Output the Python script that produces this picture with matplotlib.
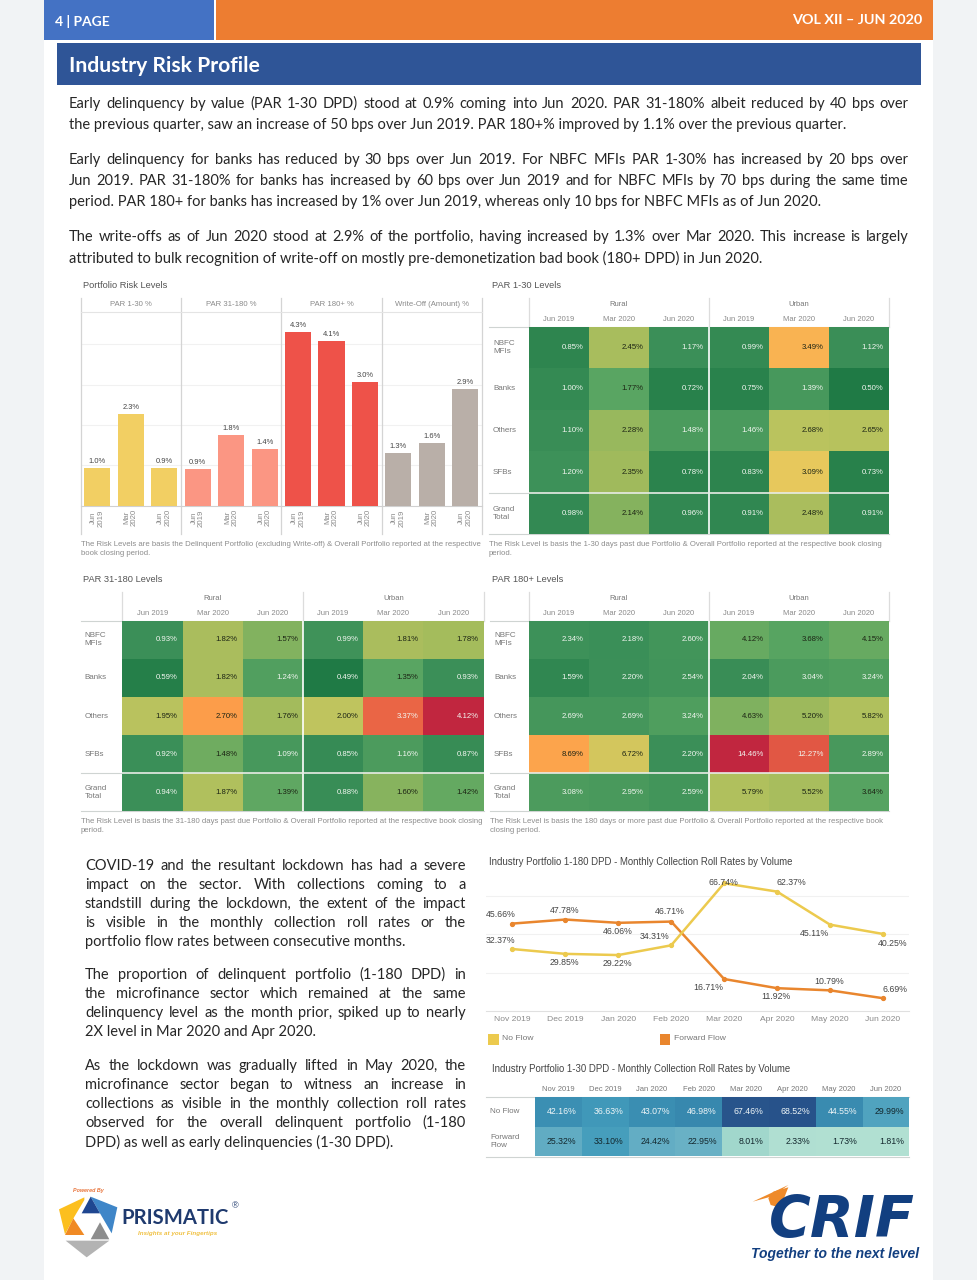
import numpy as np
import matplotlib
matplotlib.use('Agg')
import matplotlib.pyplot as plt
import matplotlib.patches as patches
from matplotlib.colors import LinearSegmentedColormap, Normalize

W, H = 977, 1280
SANS = 'Liberation Sans'
BODY = 'Lato'
PT = 0.72  # px -> points at dpi 100

# bars
bar_periods = ['Jun\n2019', 'Mar\n2020', 'Jun\n2020'] * 4
bar_groups = ['PAR 1-30 %', 'PAR 31-180 %', 'PAR 180+ %', 'Write-Off (Amount) %']
bar_values = [0.94, 2.28, 0.94, 0.91, 1.74, 1.40, 4.30, 4.08, 3.06, 1.31, 1.56, 2.88]
bar_labels = ['1.0%', '2.3%', '0.9%', '0.9%', '1.8%', '1.4%', '4.3%', '4.1%', '3.0%', '1.3%', '1.6%', '2.9%']
bar_colors = ['#f2cf63'] * 3 + ['#fb9683'] * 3 + ['#ee5249'] * 3 + ['#b9afa8'] * 3

# heat tables
table_months = ['Jun 2019', 'Mar 2020', 'Jun 2020', 'Jun 2019', 'Mar 2020', 'Jun 2020']
table_rows = ['NBFC\nMFIs', 'Banks', 'Others', 'SFBs', 'Grand\nTotal']
par_1_30 = [[0.85, 2.45, 1.17, 0.99, 3.49, 1.12],
            [1.00, 1.77, 0.72, 0.75, 1.39, 0.50],
            [1.10, 2.28, 1.48, 1.46, 2.68, 2.65],
            [1.20, 2.35, 0.78, 0.83, 3.09, 0.73],
            [0.98, 2.14, 0.96, 0.91, 2.48, 0.91]]
par_31_180 = [[0.93, 1.82, 1.57, 0.99, 1.81, 1.78],
              [0.59, 1.82, 1.24, 0.49, 1.35, 0.93],
              [1.95, 2.70, 1.76, 2.00, 3.37, 4.12],
              [0.92, 1.48, 1.09, 0.85, 1.16, 0.87],
              [0.94, 1.87, 1.39, 0.88, 1.60, 1.42]]
par_180 = [[2.34, 2.18, 2.60, 4.12, 3.68, 4.15],
           [1.59, 2.20, 2.54, 2.04, 3.04, 3.24],
           [2.69, 2.69, 3.24, 4.63, 5.20, 5.82],
           [8.69, 6.72, 2.20, 14.46, 12.27, 2.89],
           [3.08, 2.95, 2.59, 5.79, 5.52, 3.64]]

# roll rates
roll_months = ['Nov 2019', 'Dec 2019', 'Jan 2020', 'Feb 2020', 'Mar 2020', 'Apr 2020', 'May 2020', 'Jun 2020']
no_flow = [32.37, 29.85, 29.22, 34.31, 66.74, 62.37, 45.11, 40.25]
forward_flow = [45.66, 47.78, 46.06, 46.71, 16.71, 11.92, 10.79, 6.69]
roll_rows = ['No Flow', 'Forward\nFlow']
no_flow_30 = [42.16, 36.63, 43.07, 46.98, 67.46, 68.52, 44.55, 29.99]
forward_flow_30 = [25.32, 33.10, 24.42, 22.95, 8.01, 2.33, 1.73, 1.81]

para_top = [
    ['Early delinquency by value (PAR 1-30 DPD) stood at 0.9% coming into Jun 2020. PAR 31-180% albeit reduced by 40 bps over',
     'the previous quarter, saw an increase of 50 bps over Jun 2019. PAR 180+% improved by 1.1% over the previous quarter.'],
    ['Early delinquency for banks has reduced by 30 bps over Jun 2019. For NBFC MFIs PAR 1-30% has increased by 20 bps over',
     'Jun 2019. PAR 31-180% for banks has increased by 60 bps over Jun 2019 and for NBFC MFIs by 70 bps during the same time',
     'period. PAR 180+ for banks has increased by 1% over Jun 2019, whereas only 10 bps for NBFC MFIs as of Jun 2020.'],
    ['The write-offs as of Jun 2020 stood at 2.9% of the portfolio, having increased by 1.3% over Mar 2020. This increase is largely',
     'attributed to bulk recognition of write-off on mostly pre-demonetization bad book (180+ DPD) in Jun 2020.'],
]
para_top_y = [[104, 125.5], [160, 181, 202], [237, 258]]
para_left = [
    ['COVID-19 and the resultant lockdown has had a severe',
     'impact on the sector. With collections coming to a',
     'standstill during the lockdown, the extent of the impact',
     'is visible in the monthly collection roll rates or the',
     'portfolio flow rates between consecutive months.'],
    ['The proportion of delinquent portfolio (1-180 DPD) in',
     'the microfinance sector which remained at the same',
     'delinquency level as the month prior, spiked up to nearly',
     '2X level in Mar 2020 and Apr 2020.'],
    ['As the lockdown was gradually lifted in May 2020, the',
     'microfinance sector began to witness an increase in',
     'collections as visible in the monthly collection roll rates',
     'observed for the overall delinquent portfolio (1-180',
     'DPD) as well as early delinquencies (1-30 DPD).'],
]
para_left_y = [[866, 885, 904, 923, 942], [975, 994, 1013, 1032], [1066, 1085, 1104, 1123, 1142]]

heat_cmap = LinearSegmentedColormap.from_list('risk', [
    (0.00, '#1f7a45'), (0.12, '#3b8f58'), (0.24, '#5aa662'), (0.34, '#9fba5c'),
    (0.42, '#c1c55e'), (0.50, '#f5c95b'), (0.60, '#fd9f4a'), (0.80, '#ea6445'), (1.00, '#c1263f')])
roll_cmap = LinearSegmentedColormap.from_list('roll', [
    (0.00, '#b5e2d4'), (0.12, '#a0d6cc'), (0.35, '#65aec4'), (0.50, '#429cbb'), (0.70, '#3686ad'), (1.00, '#27528a')])

fig = plt.figure(figsize=(W / 100, H / 100), dpi=100, facecolor='#f1f3f5')
renderer = fig.canvas.get_renderer()

page = fig.add_axes([0, 0, 1, 1], zorder=0)
page.set_xlim(0, W)
page.set_ylim(H, 0)
page.axis('off')


def px_axes(l, t, r, b):
    ax = fig.add_axes([l / W, 1 - b / H, (r - l) / W, (b - t) / H], zorder=2)
    ax.patch.set_alpha(0)
    return ax


def txt(x, y, s, size=5.5, color='#777777', family=SANS, ha='left', **kw):
    return page.text(x, y, s, fontsize=size, color=color, family=family, ha=ha, va='center', **kw)


def measure(s, **kw):
    t = page.text(0, 0, s, **kw)
    w = t.get_window_extent(renderer).width
    t.remove()
    return w


def justified(x0, x1, y, line, stretch=True, size=10.5, color='#262626'):
    kw = dict(fontsize=size, family=BODY)
    if not stretch:
        page.text(x0, y, line, color=color, va='center', **kw)
        return
    words = line.split(' ')
    widths = [measure(w, **kw) for w in words]
    gap = (x1 - x0 - sum(widths)) / (len(words) - 1)
    x = x0
    for w, wd in zip(words, widths):
        page.text(x, y, w, color=color, va='center', **kw)
        x += wd + gap


def heat_table(box, values, norm, white_below, white_above, label_gap, row_labels=table_rows):
    l, t, r, b = box
    vals = np.array(values)
    ax = px_axes(l, t, r, b)
    ax.pcolormesh(vals, cmap=heat_cmap, norm=norm, antialiased=False)
    ax.set_ylim(vals.shape[0], 0)
    ax.axis('off')
    for i, row in enumerate(values):
        for j, v in enumerate(row):
            c = '#f2f6f0' if v < white_below or v > white_above else '#1c2414'
            ax.annotate('%.2f%%' % v, (j + 1, i + 0.5), xytext=(-5 * PT, 0), textcoords='offset points',
                        ha='right', va='center', fontsize=5.6, color=c, family=SANS)
        ax.annotate(row_labels[i], (0, i + 0.5), xytext=(-label_gap * PT, 0), textcoords='offset points',
                    ha='left', va='center', fontsize=5.8, color='#777777', family=SANS, linespacing=1.15,
                    annotation_clip=False)
    for j, m in enumerate(table_months):
        ax.annotate(m, (j + 0.5, 0), xytext=(0, 7.4 * PT), textcoords='offset points', ha='center', va='center',
                    fontsize=5.5, color='#8a8a8a', family=SANS, annotation_clip=False)
    for x, name in [(1.5, 'Rural'), (4.5, 'Urban')]:
        ax.annotate(name, (x, 0), xytext=(0, 21.7 * PT), textcoords='offset points', ha='center', va='center',
                    fontsize=5.5, color='#777777', family=SANS, annotation_clip=False)
    ax.plot([3, 3], [0, 5], color='white', lw=1.2)
    ax.plot([0, 6], [4, 4], color='#e8ece6', lw=1.2)
    # rules round the table
    page.plot([l - label_gap - 4, r], [t, t], color='#cfd4d2', lw=0.8)
    page.plot([l - label_gap - 4, r], [b, b], color='#cfd4d2', lw=0.8)
    page.plot([l - label_gap - 4, l], [b - (b - t) / 5] * 2, color='#cfd4d2', lw=0.8)
    for x in [l, (l + r) / 2, r]:
        page.plot([x, x], [t - 29, t], color='#dcdcdc', lw=0.9)


# page furniture
page.add_patch(patches.Rectangle((44, 0), 889, H, color='white', lw=0))
page.add_patch(patches.Rectangle((44, 0), 170, 39.5, color='#4472c4', lw=0))
page.add_patch(patches.Rectangle((215.5, 0), 717.5, 39.5, color='#ed7d31', lw=0))
page.add_patch(patches.Rectangle((57, 42.5), 864, 42.5, color='#2f5597', lw=0))
txt(55, 22, '4 | PAGE', size=10, color='white', family=BODY, weight='bold')
txt(922, 20, 'VOL XII – JUN 2020', size=10.4, color='white', family=BODY, ha='right', weight='bold')
txt(69, 65.5, 'Industry Risk Profile', size=15.2, color='white', family=BODY, weight='bold')

for para, ys in zip(para_top, para_top_y):
    for k, (line, y) in enumerate(zip(para, ys)):
        justified(69, 908.5, y, line, stretch=k < len(para) - 1)
for para, ys in zip(para_left, para_left_y):
    for k, (line, y) in enumerate(zip(para, ys)):
        justified(85, 466, y, line, stretch=k < len(para) - 1)

# portfolio risk levels
txt(83, 285.5, 'Portfolio Risk Levels', size=6.7, color='#555555')
ax = px_axes(80.7, 312.3, 482, 505.7)
xs = np.arange(len(bar_values))
ax.bar(xs, bar_values, width=0.78, color=bar_colors, zorder=3)
for x, v, s in zip(xs, bar_values, bar_labels):
    ax.annotate(s, (x, v), xytext=(0, 6.5 * PT), textcoords='offset points', ha='center', va='center',
                fontsize=5.4, color='#444444', family=SANS)
ax.set_xlim(-0.5, 11.5)
ax.set_ylim(0, 4.79)
ax.set_yticks([1, 2, 3, 4])
ax.set_yticklabels([])
ax.grid(axis='y', color='#f1f1f1', lw=0.8)
ax.set_axisbelow(True)
ax.tick_params(length=0, pad=2.5)
ax.set_xticks(xs)
ax.set_xticklabels(bar_periods, rotation=90, fontsize=5.6, color='#8a8a8a', family=SANS, linespacing=1.05)
for s in ['top', 'left', 'right']:
    ax.spines[s].set_visible(False)
ax.spines['bottom'].set_color('#d0d0d0')
for k in range(5):
    ax.plot([k * 3 - 0.5] * 2, [-0.146, 1.0755], transform=ax.get_xaxis_transform(), color='#d4d4d4', lw=0.9, clip_on=False)
ax.plot([0, 1], [1, 1], transform=ax.transAxes, color='#e4e4e4', lw=0.8, clip_on=False)
for k, g in enumerate(bar_groups):
    ax.annotate(g, (k * 3 + 1, 1), xycoords=ax.get_xaxis_transform(), xytext=(0, 7.5 * PT), textcoords='offset points',
                ha='center', va='center', fontsize=5.6, color='#8a8a8a', family=SANS, annotation_clip=False)
txt(80.7, 544.5, 'The Risk Levels are basis the Delinquent Portfolio (excluding Write-off) & Overall Portfolio reported at the respective', size=5.55, color='#8c8c8c')
txt(80.7, 553.3, 'book closing period.', size=5.55, color='#8c8c8c')

# par tables
txt(491.7, 285.5, 'PAR 1-30 Levels', size=6.7, color='#555555')
heat_table((528.5, 326.7, 888.7, 534.3), par_1_30, Normalize(0.5, 5.9), 1.6, 99, 35.6)
txt(488.7, 544.5, 'The Risk Level is basis the 1-30 days past due Portfolio & Overall Portfolio reported at the respective book closing', size=5.55, color='#8c8c8c')
txt(488.7, 553.3, 'period.', size=5.55, color='#8c8c8c')

txt(83, 579, 'PAR 31-180 Levels', size=6.7, color='#555555')
heat_table((122.3, 620.7, 483.7, 811.3), par_31_180, Normalize(0.49, 4.12), 1.3, 3.0, 37.6)
txt(80.7, 821.3, 'The Risk Level is basis the 31-180 days past due Portfolio & Overall Portfolio reported at the respective book closing', size=5.55, color='#8c8c8c')
txt(80.7, 830, 'period.', size=5.55, color='#8c8c8c')

txt(492, 579, 'PAR 180+ Levels', size=6.7, color='#555555')
heat_table((528.7, 620.7, 888.5, 811.3), par_180, Normalize(0.5, 14.46), 3.5, 10, 34.7)
txt(489.7, 821.3, 'The Risk Level is basis the 180 days or more past due Portfolio & Overall Portfolio reported at the respective book', size=5.55, color='#8c8c8c')
txt(489.7, 830, 'closing period.', size=5.55, color='#8c8c8c')

# roll rate lines
txt(489, 862, 'Industry Portfolio 1-180 DPD - Monthly Collection Roll Rates by Volume', size=6.95, color='#444444')
ax = px_axes(485.9, 877, 909.4, 1011)
x8 = np.arange(8)
ax.plot(x8, forward_flow, color='#e9862e', lw=1.8, marker='o', ms=2.8, zorder=3)
ax.plot(x8, no_flow, color='#ecca4e', lw=1.8, marker='o', ms=2.8, zorder=4)
no_flow_off = [(-11.6, 9), (-1, -8.9), (-0.7, -8.7), (-16.3, 8.6), (-1, 0.5), (14, 9.6), (-16, -8.7), (9.3, -9.4)]
forward_off = [(-11.6, 9.3), (-1, 9.5), (-0.7, -8.5), (-1.3, 9.6), (-15.7, -8.7), (-1.3, -8.8), (-0.7, 9), (11.7, 8.9)]
for series, off in [(no_flow, no_flow_off), (forward_flow, forward_off)]:
    for x, v, (dx, dy) in zip(x8, series, off):
        ax.annotate('%.2f%%' % v, (x, v), xytext=(dx * PT, dy * PT), textcoords='offset points', ha='center',
                    va='center', fontsize=6.3, color='#444444', family=SANS, zorder=5, annotation_clip=False)
ax.set_xlim(-0.5, 7.5)
ax.set_ylim(0, 70)
ax.set_yticks([20, 40, 60])
ax.set_yticklabels([])
ax.grid(axis='y', color='#f1f1f1', lw=0.8)
ax.set_axisbelow(True)
ax.tick_params(length=0, pad=3.5)
ax.set_xticks(x8)
ax.set_xticklabels(roll_months, fontsize=6.1, color='#8a8a8a', family=SANS)
for s in ['top', 'left', 'right']:
    ax.spines[s].set_visible(False)
ax.spines['bottom'].set_color('#e0e0e0')
page.add_patch(patches.Rectangle((488, 1034), 10.5, 10.5, color='#ecca4e', lw=0))
txt(501.7, 1039, 'No Flow', size=6.1, color='#777777')
page.add_patch(patches.Rectangle((659.5, 1034), 10.5, 10.5, color='#e9862e', lw=0))
txt(673.7, 1039, 'Forward Flow', size=6.1, color='#777777')

# roll rate table
txt(491.5, 1069.5, 'Industry Portfolio 1-30 DPD - Monthly Collection Roll Rates by Volume', size=6.95, color='#444444')
roll_vals = np.array([no_flow_30, forward_flow_30])
ax = px_axes(535, 1096.7, 909.3, 1156.3)
ax.pcolormesh(roll_vals, cmap=roll_cmap, norm=Normalize(0, 68.52), antialiased=False)
ax.set_ylim(2, 0)
ax.axis('off')
for i, row in enumerate(roll_vals):
    for j, v in enumerate(row):
        c = '#eef5f7' if v > 35 else '#14282e'
        ax.annotate('%.2f%%' % v, (j + 1, i + 0.5), xytext=(-5.5 * PT, 0), textcoords='offset points', ha='right',
                    va='center', fontsize=6.3, color=c, family=SANS)
    ax.annotate(roll_rows[i], (0, i + 0.5), xytext=(-45 * PT, 0), textcoords='offset points', ha='left', va='center',
                fontsize=5.8, color='#777777', family=SANS, linespacing=1.15, annotation_clip=False)
for j, m in enumerate(roll_months):
    ax.annotate(m, (j + 0.5, 0), xytext=(0, 7.5 * PT), textcoords='offset points', ha='center', va='center',
                fontsize=5.5, color='#777777', family=SANS, annotation_clip=False)
page.plot([486, 909.3], [1096.7, 1096.7], color='#cfd4d2', lw=0.8)
page.plot([486, 909.3], [1156.5, 1156.5], color='#cfd4d2', lw=0.8)

# prismatic logo
def poly(points, color, ox, oy):
    pts = [(x / 3 + ox, y / 3 + oy) for x, y in points]
    page.add_patch(patches.Polygon(pts, closed=True, color=color, lw=0))

poly([(27, 88), (103, 52), (103, 60), (72, 112), (45, 163)], '#fcbf1e', 50, 1180)
poly([(70, 115), (103, 165), (45, 165)], '#f08a24', 50, 1180)
poly([(122, 50), (202, 82), (185, 160), (150, 100)], '#3f86c8', 50, 1180)
poly([(122, 50), (150, 100), (95, 100)], '#1f4690', 50, 1180)
poly([(150, 127), (178, 178), (122, 178)], '#8d8d8d', 50, 1180)
poly([(47, 182), (178, 182), (110, 232)], '#b3b3b3', 50, 1180)
txt(72.7, 1190.7, 'Powered By', size=3.9, color='#e8743b', style='italic', weight='bold')
txt(121.5, 1218.5, 'PRISMATIC', size=14.6, color='#1f3a6e', family='Lato', weight='bold')
txt(235, 1205.5, '®', size=6.5, color='#1f3a6e', ha='center')
txt(138, 1233.5, 'Insights at your Fingertips', size=4.5, color='#f0c040', style='italic', weight='bold')

# crif logo
poly([(38, 65), (145, 15), (100, 48)], '#ee8a2a', 740, 1180)
poly([(100, 35), (145, 22), (130, 60), (110, 80), (92, 75), (85, 55)], '#ee8a2a', 740, 1180)
txt(841.5, 1221, 'CRIF', size=41, color='#123f80', family='DejaVu Sans', ha='center', weight='bold', style='italic')
txt(835.5, 1254, 'Together to the next level', size=10, color='#123f80', family=SANS, ha='center', style='italic', weight='bold')

fig.savefig('out.png', dpi=100, facecolor=fig.get_facecolor())
